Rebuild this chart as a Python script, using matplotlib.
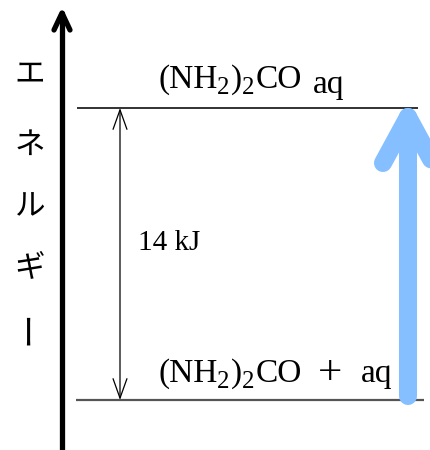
import matplotlib
matplotlib.use('Agg')
import matplotlib.pyplot as plt
from matplotlib.patches import FancyArrowPatch

# energy levels (kJ) and labels
levels = [0, 14]
delta_label = '14 kJ'
axis_label = ['エ', 'ネ', 'ル', 'ギ', 'ー']
# label runs: (text, size factor, lowered by px, gap before px)
upper_runs = [('(NH', 1, 0, 0), ('2', 0.75, 6, 0), (')', 1, 0, 1),
              ('2', 0.75, 6, 0), ('CO', 1, 0, 1), ('aq', 1, 5, 11)]
lower_runs = [('(NH', 1, 0, 0), ('2', 0.75, 6, 0), (')', 1, 0, 1),
              ('2', 0.75, 6, 0), ('CO', 1, 0, 1), ('+', 1.3, 2, 16),
              ('aq', 1, 0, 19)]

W, H = 430, 450
fig = plt.figure(figsize=(W / 100, H / 100), dpi=100)
ax = fig.add_axes([0, 0, 1, 1])
ax.axis('off')

# pixel scale: lower level at y=400px, upper level at y=108px
ppk = (400 - 108) / (levels[1] - levels[0])
ax.set_xlim(0, W)
ax.set_ylim(levels[0] - (H - 400) / ppk, levels[1] + 108 / ppk)
lo, hi = levels


def px(n):
    return n / ppk


serif = 'Liberation Serif'
fs = 21
lab_fs = 24
renderer = fig.canvas.get_renderer()


def draw_runs(x, base, runs):
    for txt, k, dy, gap in runs:
        x += gap
        t = ax.text(x, base - px(dy), txt, family=serif, fontsize=lab_fs * k,
                    va='baseline', ha='left')
        bb = t.get_window_extent(renderer)
        x = ax.transData.inverted().transform((bb.x1, 0))[0]


# energy axis
ax.plot([62, 62], [lo - px(80), hi + px(95)], color='black', lw=3.8,
        solid_capstyle='round')
ax.plot([54, 62, 70], [hi + px(78), hi + px(95), hi + px(78)], color='black',
        lw=3.8, solid_capstyle='round', solid_joinstyle='round')
ys = [75, 145, 207, 268, 328]
for ch, y in zip(axis_label, ys):
    vert = ch == 'ー'
    ax.text(30, hi + px(108 - y), ch, ha='center', va='center',
            fontsize=25 if vert else 22, rotation=90 if vert else 0,
            family=['Noto Sans CJK JP', 'DejaVu Sans'])

# levels
ax.plot([77, 418], [hi, hi], color='#222222', lw=1.3, solid_capstyle='butt')
ax.plot([76, 424], [lo, lo], color='#555555', lw=1.6, solid_capstyle='butt')

# energy difference
ax.add_patch(FancyArrowPatch((120, lo), (120, hi),
                             arrowstyle='<->,head_length=1.4,head_width=0.5',
                             mutation_scale=10, lw=0.9, color='black',
                             shrinkA=0, shrinkB=0))
ax.text(138, (lo + hi) / 2 + px(4), delta_label, family=serif, fontsize=fs,
        va='baseline')

# blue arrow
blue = '#85bfff'
ax.plot([408, 408], [lo + px(4), hi - px(9)], color=blue, lw=13,
        solid_capstyle='round')
ax.plot([383, 408, 433], [hi - px(55), hi - px(9), hi - px(55)], color=blue,
        lw=13, solid_capstyle='round', solid_joinstyle='round')

# labels
draw_runs(158, hi + px(20), upper_runs)
draw_runs(158, lo + px(18), lower_runs)

fig.savefig('out.png', dpi=100)
